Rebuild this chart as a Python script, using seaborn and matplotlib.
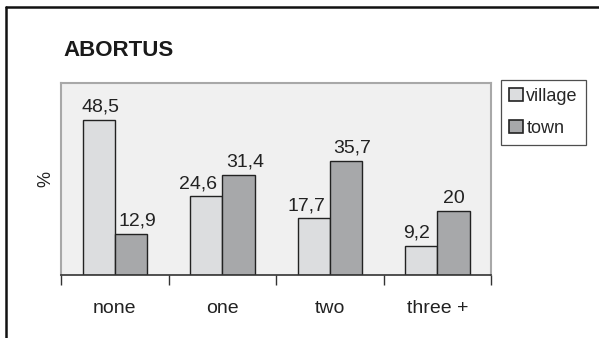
import matplotlib
matplotlib.use("Agg")
import matplotlib.pyplot as plt
from matplotlib.lines import Line2D
from matplotlib.ticker import FixedLocator
import pandas as pd
import seaborn as sns

# Number of abortions, share of women (%) by place of residence
categories = ["none", "one", "two", "three +"]
village = [48.5, 24.6, 17.7, 9.2]
town = [12.9, 31.4, 35.7, 20.0]
series_names = ["village", "town"]
series_colors = ["#dcdddf", "#a7a8aa"]

# horizontal nudge of each value label, in points
village_label_dx = [1, -6, -5, -3]
town_label_dx = [5, 5, 4.5, 0]

df = pd.DataFrame({
    "category": categories * 2,
    "group": [series_names[0]] * len(categories) + [series_names[1]] * len(categories),
    "value": village + town,
})

sns.set_theme(style="white")
plt.rcParams["font.family"] = ["Liberation Sans", "DejaVu Sans"]

fig = plt.figure(figsize=(5.99, 3.38), dpi=100)
ax = fig.add_axes([61 / 599, 1 - 275 / 338, 430 / 599, 192 / 338])

sns.barplot(data=df, x="category", y="value", hue="group", order=categories,
            hue_order=series_names, palette=series_colors, width=0.6,
            edgecolor="#222222", linewidth=1.0, saturation=1, ax=ax,
            legend=True)

ax.set_facecolor("#f0f0f0")
ax.set_ylim(0, 60)
ax.set_xlim(-0.5, len(categories) - 0.5)
ax.set_yticks([])
ax.set_xlabel("")
ax.set_ylabel("%", fontsize=13, labelpad=5, color="#222222")

# value labels with decimal comma
def fmt(v):
    return f"{v:g}".replace(".", ",")

for cont, vals, dxs in zip(ax.containers, [village, town],
                           [village_label_dx, town_label_dx]):
    anns = ax.bar_label(cont, labels=[fmt(v) for v in vals], padding=3,
                        fontsize=14, color="#222222")
    for ann, dx in zip(anns, dxs):
        ann.xyann = (dx, 3)

# category labels centred, boundary tick marks below the axis
ax.set_xticks(range(len(categories)))
ax.set_xticklabels(categories, fontsize=14, color="#222222")
ax.tick_params(axis="x", which="major", length=0, pad=18)
ax.xaxis.set_minor_locator(FixedLocator([i - 0.5 for i in range(len(categories) + 1)]))
ax.tick_params(axis="x", which="minor", length=7, width=1.0, color="#333333",
               direction="out", bottom=True)

for side in ["left", "top", "right"]:
    ax.spines[side].set_color("#a8a8a8")
    ax.spines[side].set_linewidth(1.5)
ax.spines["bottom"].set_color("#333333")
ax.spines["bottom"].set_linewidth(1.2)

leg = ax.legend(loc="upper left", bbox_to_anchor=(501 / 599, 1 - 80 / 338),
                bbox_transform=fig.transFigure, frameon=True, fontsize=13,
                handlelength=0.75, handleheight=0.75, handletextpad=0.2,
                labelspacing=0.8, borderpad=0.45, borderaxespad=0,
                fancybox=False)
leg.get_frame().set_edgecolor("#222222")
leg.get_frame().set_linewidth(0.9)
for h in leg.legend_handles:
    h.set_edgecolor("#222222")
    h.set_linewidth(1.2)

fig.text(63 / 599, 1 - 51 / 338, "ABORTUS", fontsize=16, fontweight="bold",
         color="#1a1a1a", va="center", ha="left")

# outer frame lines at top and left
fig.add_artist(Line2D([6 / 599, 1], [1 - 7 / 338, 1 - 7 / 338],
                      transform=fig.transFigure, color="#111111", lw=1.8))
fig.add_artist(Line2D([6 / 599, 6 / 599], [0, 1 - 7 / 338],
                      transform=fig.transFigure, color="#111111", lw=1.8))

fig.savefig("out.png", dpi=100, facecolor="white")
